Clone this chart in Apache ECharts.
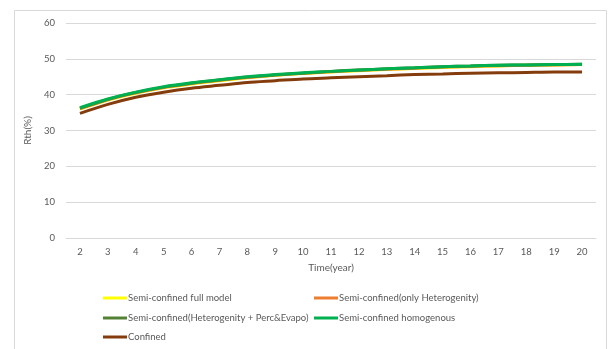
<!DOCTYPE html>
<html>
<head>
<meta charset="utf-8">
<script src="https://cdn.jsdelivr.net/npm/echarts@6/dist/echarts.min.js"></script>
<style>html,body{margin:0;padding:0;background:#fff;}#c{width:609px;height:349px;}</style>
</head>
<body>
<div id="c"></div>
<script>
const years = ['2','3','4','5','6','7','8','9','10','11','12','13','14','15','16','17','18','19','20'];
const fullModel   = [36.0,38.5,40.4,41.9,43.0,43.9,44.7,45.4,45.9,46.3,46.7,47.0,47.3,47.6,47.8,48.0,48.2,48.3,48.4];
const onlyHetero  = [36.1,38.6,40.5,42.0,43.1,44.0,44.8,45.5,46.0,46.4,46.8,47.1,47.4,47.7,47.9,48.1,48.2,48.3,48.4];
const heteroPerc  = [36.2,38.7,40.6,42.1,43.2,44.1,44.9,45.5,46.0,46.5,46.9,47.2,47.5,47.8,48.0,48.2,48.3,48.4,48.5];
const homogenous  = [36.4,38.8,40.7,42.2,43.3,44.2,45.0,45.6,46.1,46.5,46.9,47.2,47.5,47.8,48.0,48.2,48.3,48.4,48.5];
const confined    = [34.8,37.3,39.3,40.7,41.8,42.6,43.4,43.9,44.4,44.7,45.0,45.3,45.6,45.8,46.0,46.1,46.2,46.3,46.3];
const yTicks = [0,10,20,30,40,50,60];

const names = ['Semi-confined full model','Semi-confined(only Heterogenity)','Semi-confined(Heterogenity + Perc&Evapo)','Semi-confined homogenous','Confined'];
const colors = ['#FFFF00','#ED7D31','#548235','#00B050','#843C0C'];
const datas = [fullModel, onlyHetero, heteroPerc, homogenous, confined];
const legendPos = [[103,293],[314,293],[103,313],[314,313],[103,332]];
const font = 'Lato, "Open Sans", sans-serif';

const chart = echarts.init(document.getElementById('c'));
chart.setOption({
  animation: false,
  backgroundColor: '#fff',
  graphic: [{type:'rect', shape:{x:14.5,y:10.5,width:592,height:345}, style:{fill:'none', stroke:'#d9d9d9', lineWidth:1}, silent:true}],
  grid: {left:66, right:13, top:23, bottom:111},
  xAxis: {
    type:'category', data: years, boundaryGap:true,
    name:'Time(year)', nameLocation:'middle', nameGap:25,
    nameTextStyle:{color:'#595959', fontSize:10, fontFamily:font},
    axisLine:{lineStyle:{color:'#d9d9d9'}}, axisTick:{show:false},
    axisLabel:{color:'#595959', fontSize:9.5, fontFamily:font, margin:9}
  },
  yAxis: {
    type:'value', min:yTicks[0], max:yTicks[yTicks.length-1], interval:10,
    name:'Rth(%)', nameLocation:'middle', nameGap:23,
    nameTextStyle:{color:'#595959', fontSize:10, fontFamily:font},
    axisLine:{show:false}, axisTick:{show:false},
    axisLabel:{color:'#595959', fontSize:9.5, fontFamily:font, margin:11},
    splitLine:{lineStyle:{color:'#d9d9d9'}}
  },
  legend: names.map((n,i)=>({
    data:[n], left:legendPos[i][0], top:legendPos[i][1], icon:'rect', itemWidth:24, itemHeight:3,
    selectedMode:false, padding:0,
    textStyle:{color:'#595959', fontSize:9.5, fontFamily:font, padding:[0,0,0,-4]}
  })),
  series: names.map((n,i)=>({
    name:n, type:'line', data:datas[i], smooth:0.3, showSymbol:false, symbol:'none',
    lineStyle:{color:colors[i], width:3}, itemStyle:{color:colors[i]}, z: i===3?5:(i===4?4:2)
  }))
});
</script>
</body>
</html>
